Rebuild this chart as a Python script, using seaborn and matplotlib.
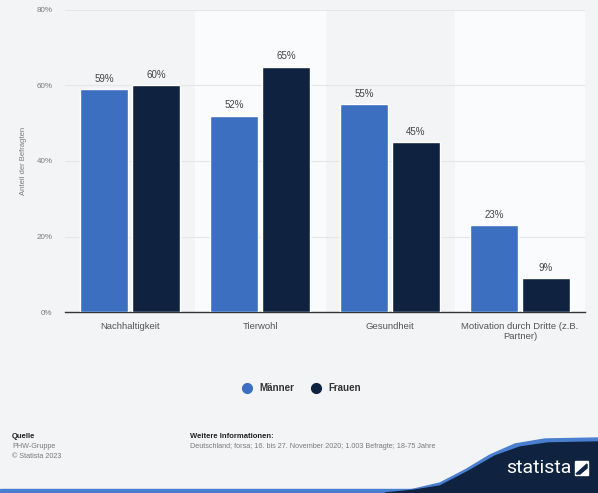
import matplotlib
matplotlib.use("Agg")
import matplotlib.pyplot as plt
import seaborn as sns
import pandas as pd
from matplotlib.patches import Polygon, Rectangle
from matplotlib.lines import Line2D

categories = ["Nachhaltigkeit", "Tierwohl", "Gesundheit", "Motivation durch Dritte (z.B.\nPartner)"]
maenner = [59, 52, 55, 23]
frauen = [60, 65, 45, 9]
series = ["Männer", "Frauen"]
yticks = [0, 20, 40, 60, 80]

df = pd.DataFrame({
    "Kategorie": categories * 2,
    "Geschlecht": [series[0]] * 4 + [series[1]] * 4,
    "Wert": maenner + frauen,
})

BG = "#f2f4f6"
BLUE = "#3c6fc0"
NAVY = "#0f2340"
GRAY = "#7a7a7a"

sns.set_theme(style="white")
plt.rcParams["font.family"] = ["Liberation Sans", "DejaVu Sans"]
plt.rcParams["font.stretch"] = "normal"

fig = plt.figure(figsize=(5.98, 4.93), dpi=100, facecolor=BG)
ax = fig.add_axes([0.109, 0.367, 0.869, 0.613])
ax.set_facecolor(BG)

for i in (1, 3):
    ax.axvspan(i - 0.5, i + 0.5, color="#fafbfd", zorder=0)

sns.barplot(data=df, x="Kategorie", y="Wert", hue="Geschlecht",
            palette=[BLUE, NAVY], saturation=1, width=0.8, gap=0.08, ax=ax,
            legend=False, zorder=3)

for cont in ax.containers:
    ax.bar_label(cont, labels=[f"{v:.0f}%" for v in cont.datavalues],
                 padding=4, fontsize=7, color="#444444")

ax.set_ylim(0, 80)
ax.set_xlim(-0.5, 3.5)
ax.set_yticks(yticks)
ax.set_yticklabels([f"{t}%" for t in yticks], fontsize=5.8, color=GRAY)
ax.yaxis.grid(True, color="#e4e7ea", linewidth=0.8, zorder=1)
ax.set_axisbelow(True)
ax.tick_params(axis="y", length=0, pad=9)
ax.tick_params(axis="x", length=0, pad=7, labelsize=6.8, labelcolor="#555555")
ax.set_xlabel("")
ax.set_ylabel("Anteil der Befragten", fontsize=5.5, color=GRAY, labelpad=7)
for s in ("top", "right", "left"):
    ax.spines[s].set_visible(False)
ax.spines["bottom"].set_color("#333333")
ax.spines["bottom"].set_linewidth(1.0)

handles = [Line2D([], [], marker="o", linestyle="", markersize=7, color=c) for c in (BLUE, NAVY)]
leg = fig.legend(handles, series, loc="center", bbox_to_anchor=(0.5, 1 - 388 / 493),
                 ncol=2, frameon=False, fontsize=7, handletextpad=0.3, columnspacing=1.2)
for t in leg.get_texts():
    t.set_fontweight("bold")
    t.set_color("#333333")

# footer
fig.text(12 / 598, 1 - 436 / 493, "Quelle", fontsize=5.5, fontweight="bold", color="#222222", va="center")
fig.text(12 / 598, 1 - 447 / 493, "PHW-Gruppe", fontsize=5.2, color=GRAY, va="center")
fig.text(12 / 598, 1 - 457 / 493, "© Statista 2023", fontsize=5.2, color=GRAY, va="center")
fig.text(190 / 598, 1 - 436 / 493, "Weitere Informationen:", fontsize=5.5, fontweight="bold", color="#222222", va="center")
fig.text(190 / 598, 1 - 447 / 493,
         "Deutschland; forsa; 16. bis 27. November 2020; 1.003 Befragte; 18-75 Jahre",
         fontsize=5.2, color=GRAY, va="center")

def fp(x, y):
    return (x / 598, 1 - y / 493)

# bottom stripe
fig.patches.append(Rectangle(fp(0, 493), 1, 4 / 493, transform=fig.transFigure, color="#4a7fd0", zorder=0))
# statista logo swoosh
swoosh_light = Polygon([fp(370, 493), fp(410, 490), fp(440, 483), fp(465, 470), fp(490, 455),
                        fp(515, 444), fp(545, 439), fp(598, 438), fp(598, 493)], closed=True,
                       transform=fig.transFigure, color="#4a7fd0", zorder=1)
swoosh = Polygon([fp(385, 493), fp(415, 490), fp(440, 486), fp(467, 472), fp(495, 456),
                  fp(520, 447), fp(548, 443), fp(598, 442), fp(598, 493)], closed=True,
                 transform=fig.transFigure, color="#0f2340", zorder=2)
fig.patches.extend([swoosh_light, swoosh])
fig.text(539 / 598, 1 - 468 / 493, "statista", fontsize=14, color="white", ha="center", va="center",
         zorder=3, family=["Roboto", "DejaVu Sans"], fontstretch="condensed")
fig.patches.append(Polygon([fp(575, 461), fp(588, 461), fp(588, 475), fp(575, 475)], closed=True,
                           transform=fig.transFigure, color="white", zorder=3))
fig.patches.append(Polygon([fp(576, 474), fp(587, 464), fp(587, 468), fp(580, 474)], closed=True,
                           transform=fig.transFigure, color="#0f2340", zorder=4))

fig.savefig("out.png", dpi=100, facecolor=BG)
